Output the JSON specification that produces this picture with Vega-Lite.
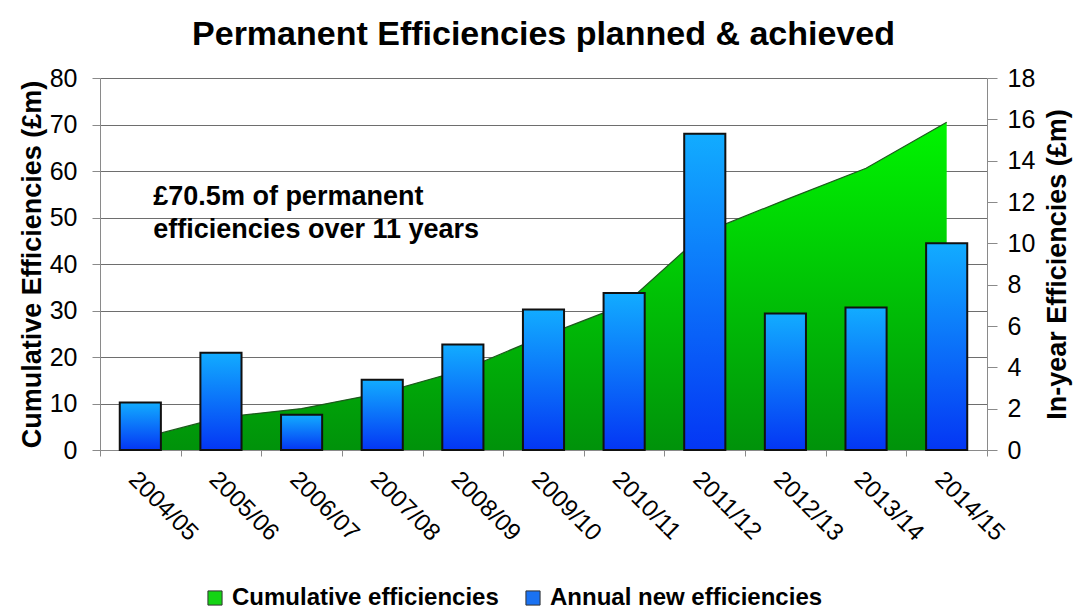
{
  "$schema": "https://vega.github.io/schema/vega-lite/v6.json",
  "width": 887,
  "height": 372,
  "autosize": {"type": "none"},
  "padding": {"left": 100, "top": 78, "right": 92, "bottom": 162},
  "background": "white",
  "title": {
    "text": "Permanent Efficiencies planned & achieved",
    "font": "Liberation Sans",
    "fontSize": 34,
    "fontWeight": "bold",
    "color": "black",
    "anchor": "middle",
    "offset": 14
  },
  "config": {
    "view": {
      "stroke": null,
      "fill": {
        "gradient": "linear", "x1": 0, "y1": 0, "x2": 0, "y2": 1,
        "stops": [
          {"offset": 0, "color": "#FFFCD8"},
          {"offset": 0.35, "color": "#FBF1B2"},
          {"offset": 0.6, "color": "#F3DE86"},
          {"offset": 0.8, "color": "#E7C354"},
          {"offset": 1, "color": "#D09A14"}
        ]
      }
    },
    "axis": {
      "labelFont": "Liberation Sans",
      "titleFont": "Liberation Sans",
      "labelColor": "black",
      "titleColor": "black",
      "domainColor": "#8a8a8a",
      "tickColor": "#8a8a8a"
    },
    "legend": {
      "orient": "none",
      "legendX": 103,
      "legendY": 508,
      "direction": "horizontal",
      "title": null,
      "labelFont": "Liberation Sans",
      "labelFontSize": 24,
      "labelFontWeight": "bold",
      "labelColor": "black",
      "labelLimit": 500,
      "symbolType": "square",
      "symbolSize": 200,
      "symbolOpacity": 1,
      "symbolStrokeColor": "#333333",
      "symbolStrokeWidth": 1,
      "columnPadding": 22,
      "labelOffset": 5,
      "padding": 0
    }
  },
  "data": {
    "values": [
      {"year": "2004/05", "annual": 2.3, "cumulative": 2.5},
      {"year": "2005/06", "annual": 4.7, "cumulative": 7.0},
      {"year": "2006/07", "annual": 1.7, "cumulative": 8.9},
      {"year": "2007/08", "annual": 3.4, "cumulative": 12.3},
      {"year": "2008/09", "annual": 5.1, "cumulative": 17.2},
      {"year": "2009/10", "annual": 6.8, "cumulative": 24.5},
      {"year": "2010/11", "annual": 7.6, "cumulative": 31.2},
      {"year": "2011/12", "annual": 15.3, "cumulative": 46.8},
      {"year": "2012/13", "annual": 6.6, "cumulative": 53.8},
      {"year": "2013/14", "annual": 6.9, "cumulative": 60.6},
      {"year": "2014/15", "annual": 10.0, "cumulative": 70.5}
    ]
  },
  "layer": [
    {
      "layer": [
        {
          "mark": {
            "type": "area",
            "fill": {
              "gradient": "linear", "x1": 0, "y1": 0, "x2": 0, "y2": 1,
              "stops": [
                {"offset": 0, "color": "#00F500"},
                {"offset": 1, "color": "#00920A"}
              ]
            }
          },
          "encoding": {
            "x": {
              "field": "year", "type": "nominal", "sort": null,
              "scale": {"paddingInner": 0, "paddingOuter": 0},
              "axis": {
                "title": null,
                "tickBand": "extent",
                "tickSize": 6,
                "labelAngle": 45,
                "labelAlign": "left",
                "labelBaseline": "top",
                "labelFontSize": 24,
                "labelPadding": 11,
                "labelOverlap": false
              }
            },
            "y": {
              "field": "cumulative", "type": "quantitative",
              "scale": {"domain": [0, 80], "nice": false},
              "axis": {
                "title": "Cumulative Efficiencies (£m)",
                "titleFontSize": 27,
                "titleFontWeight": "bold",
                "titlePadding": 3,
                "values": [0, 10, 20, 30, 40, 50, 60, 70, 80],
                "labelFontSize": 25,
                "labelPadding": 15,
                "tickSize": 8,
                "grid": true,
                "gridColor": "#6e6e6e",
                "gridWidth": 1
              }
            }
          }
        },
        {
          "mark": {"type": "line", "stroke": "#1d5a1d", "strokeWidth": 1.2},
          "encoding": {
            "x": {"field": "year", "type": "nominal", "sort": null},
            "y": {"field": "cumulative", "type": "quantitative"}
          }
        },
        {
          "data": {"values": [{"note": "£70.5m"}]},
          "mark": {
            "type": "text",
            "align": "left",
            "baseline": "middle",
            "font": "Liberation Sans",
            "fontSize": 27,
            "fontWeight": "bold",
            "color": "black",
            "lineHeight": 33,
            "dx": 13
          },
          "encoding": {
            "x": {"datum": "2004/05", "type": "nominal"},
            "y": {"datum": 54.4, "type": "quantitative"},
            "text": {"value": ["£70.5m of permanent", "efficiencies over 11 years"]}
          }
        }
      ]
    },
    {
      "mark": {
        "type": "bar",
        "width": {"band": 0.51},
        "fill": {
          "gradient": "linear", "x1": 0, "y1": 0, "x2": 0, "y2": 1,
          "stops": [
            {"offset": 0, "color": "#12ACFF"},
            {"offset": 1, "color": "#0436F4"}
          ]
        },
        "stroke": "#111111",
        "strokeWidth": 2
      },
      "encoding": {
        "x": {"field": "year", "type": "nominal", "sort": null},
        "y": {
          "field": "annual", "type": "quantitative",
          "scale": {"domain": [0, 18], "nice": false},
          "axis": {
            "orient": "right",
            "title": "In-year Efficiencies (£m)",
            "titleFontSize": 27,
            "titleFontWeight": "bold",
            "titleAngle": 270,
            "titleBaseline": "top",
            "titlePadding": 10,
            "values": [0, 2, 4, 6, 8, 10, 12, 14, 16, 18],
            "labelFontSize": 25,
            "labelPadding": 10,
            "tickSize": 10,
            "grid": false
          }
        }
      }
    },
    {
      "data": {
        "values": [
          {"series": "Cumulative efficiencies"},
          {"series": "Annual new efficiencies"}
        ]
      },
      "mark": {"type": "square", "size": 0, "filled": true},
      "encoding": {
        "color": {
          "field": "series",
          "type": "nominal",
          "scale": {
            "domain": ["Cumulative efficiencies", "Annual new efficiencies"],
            "range": ["#14D414", "#1A72F2"]
          }
        }
      }
    }
  ],
  "resolve": {"scale": {"y": "independent"}, "axis": {"y": "independent"}}
}
